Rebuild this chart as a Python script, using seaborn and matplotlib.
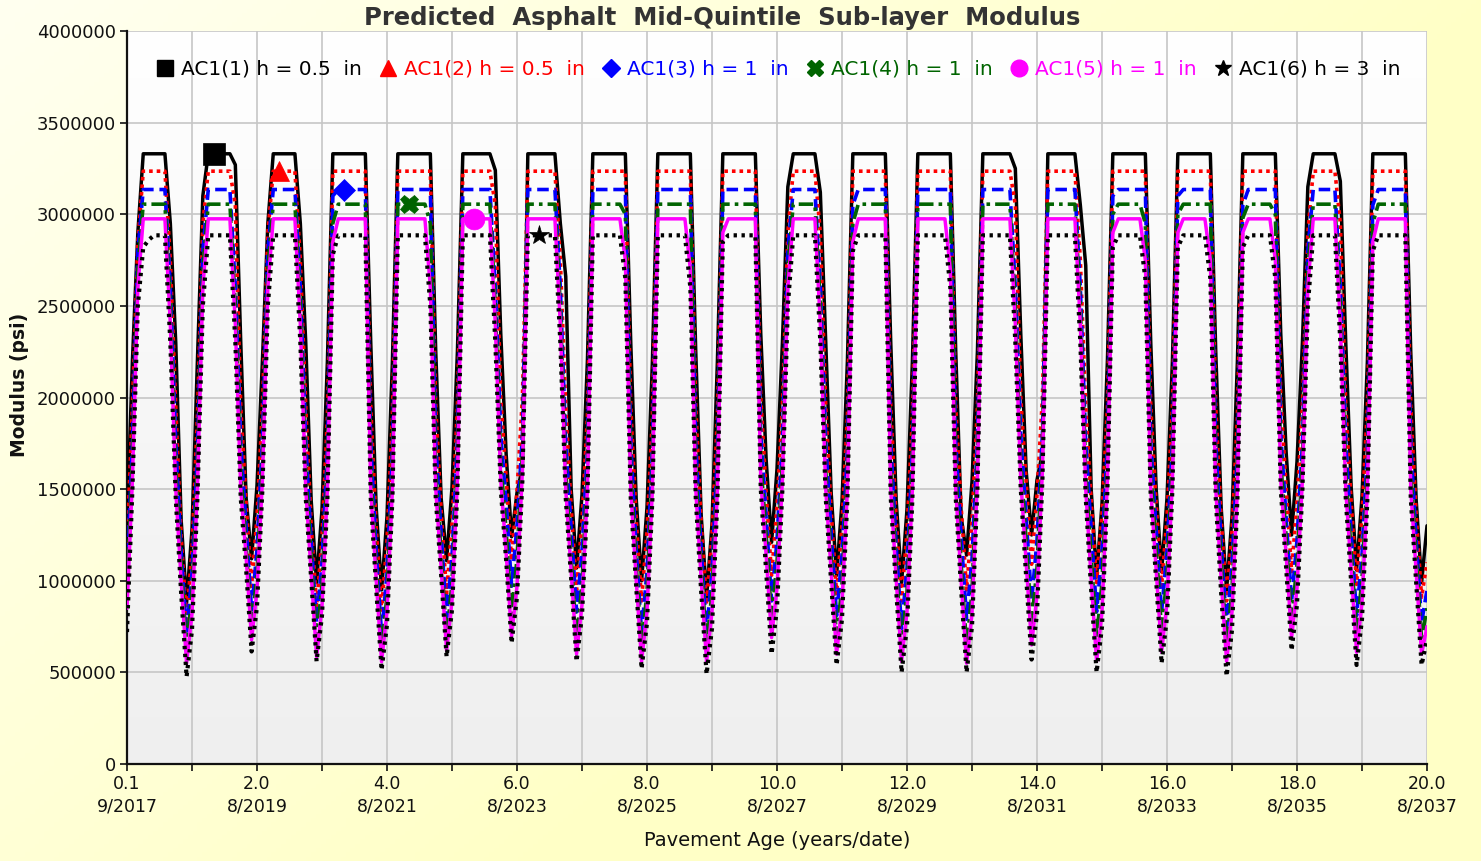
import numpy as np
import matplotlib
matplotlib.use("Agg")
import matplotlib.pyplot as plt
from matplotlib.lines import Line2D
from matplotlib.colors import LinearSegmentedColormap
import seaborn as sns

# ---------------- data (modulus in ksi, monthly, 241 points) ----------------
ac1_1 = [
    1300, 2200, 2900, 3330, 3330, 3330, 3330, 3330, 2950, 2300, 1330, 880,
    1280, 2200, 3100, 3330, 3330, 3330, 3330, 3330, 3270, 2300, 1450, 1120,
    1520, 2200, 2950, 3330, 3330, 3330, 3330, 3330, 2950, 2300, 1440, 990,
    1390, 2200, 3330, 3330, 3330, 3330, 3330, 3330, 3330, 2300, 1400, 950,
    1350, 2200, 3330, 3330, 3330, 3330, 3330, 3330, 3330, 2250, 1450, 1110,
    1510, 2250, 3330, 3330, 3330, 3330, 3330, 3330, 3240, 2350, 1690, 1240,
    1480, 1620, 3330, 3330, 3330, 3330, 3330, 3330, 2950, 2660, 1500, 1070,
    1470, 2200, 3330, 3330, 3330, 3330, 3330, 3330, 3330, 2300, 1450, 1000,
    1400, 2200, 3330, 3330, 3330, 3330, 3330, 3330, 3330, 2250, 1360, 910,
    1310, 2200, 3330, 3330, 3330, 3330, 3330, 3330, 3330, 2350, 1660, 1210,
    1610, 2300, 3150, 3330, 3330, 3330, 3330, 3330, 3120, 2300, 1480, 1030,
    1430, 2200, 3330, 3330, 3330, 3330, 3330, 3330, 3330, 2300, 1440, 990,
    1390, 2200, 3330, 3330, 3330, 3330, 3330, 3330, 3330, 2250, 1350, 1140,
    1540, 2250, 3330, 3330, 3330, 3330, 3330, 3330, 3250, 2350, 1600, 1250,
    1550, 1700, 3330, 3330, 3330, 3330, 3330, 3330, 3050, 2720, 1500, 1020,
    1420, 2200, 3330, 3330, 3330, 3330, 3330, 3330, 3330, 2300, 1500, 1050,
    1450, 2200, 3330, 3330, 3330, 3330, 3330, 3330, 3330, 2250, 1400, 950,
    1350, 2200, 3330, 3330, 3330, 3330, 3330, 3330, 3330, 2350, 1700, 1250,
    1650, 2300, 3150, 3330, 3330, 3330, 3330, 3330, 3180, 2300, 1510, 1060,
    1460, 2200, 3330, 3330, 3330, 3330, 3330, 3330, 3330, 2250, 1440, 990,
    1300]

ac1_2 = [
    1200, 1950, 2850, 3235, 3235, 3235, 3235, 3235, 2750, 1950, 1240, 786,
    1170, 1900, 2950, 3235, 3235, 3235, 3235, 3235, 3050, 1950, 1420, 970,
    1350, 1950, 2900, 3235, 3235, 3235, 3235, 3235, 2750, 1950, 1310, 860,
    1240, 1900, 3235, 3235, 3235, 3235, 3235, 3235, 3235, 1950, 1290, 840,
    1220, 1900, 3235, 3235, 3235, 3235, 3235, 3235, 3235, 1950, 1380, 930,
    1310, 1950, 3235, 3235, 3235, 3235, 3235, 3235, 3050, 2000, 1560, 1110,
    1490, 2000, 3235, 3235, 3235, 3235, 3235, 3235, 2750, 1950, 1400, 950,
    1330, 1900, 3235, 3235, 3235, 3235, 3235, 3235, 3235, 1950, 1340, 890,
    1270, 1900, 3235, 3235, 3235, 3235, 3235, 3235, 3235, 1950, 1320, 870,
    1250, 1900, 3235, 3235, 3235, 3235, 3235, 3235, 3235, 2000, 1480, 1030,
    1410, 1950, 2900, 3235, 3235, 3235, 3235, 3235, 2900, 1950, 1380, 930,
    1310, 1900, 3235, 3235, 3235, 3235, 3235, 3235, 3235, 1950, 1340, 890,
    1270, 1900, 3235, 3235, 3235, 3235, 3235, 3235, 3235, 1950, 1400, 950,
    1330, 1950, 3235, 3235, 3235, 3235, 3235, 3235, 3050, 2000, 1540, 1090,
    1470, 2000, 3235, 3235, 3235, 3235, 3235, 3235, 2750, 1950, 1440, 990,
    1370, 1950, 3235, 3235, 3235, 3235, 3235, 3235, 3235, 1950, 1420, 970,
    1350, 1950, 3235, 3235, 3235, 3235, 3235, 3235, 3235, 1950, 1340, 890,
    1270, 1900, 3235, 3235, 3235, 3235, 3235, 3235, 3235, 2000, 1500, 1050,
    1430, 1950, 2900, 3235, 3235, 3235, 3235, 3235, 2950, 1950, 1430, 980,
    1360, 1950, 3235, 3235, 3235, 3235, 3235, 3235, 3235, 1950, 1360, 910,
    1100]

ac1_3 = [
    1050, 1750, 2800, 3135, 3135, 3135, 3135, 3135, 2600, 1750, 1160, 713,
    1040, 1700, 2800, 3135, 3135, 3135, 3135, 3135, 2600, 1750, 1290, 840,
    1170, 1750, 2800, 3135, 3135, 3135, 3135, 3135, 2600, 1750, 1220, 770,
    1100, 1700, 3100, 3135, 3135, 3135, 3135, 3135, 3135, 1750, 1160, 710,
    1040, 1700, 3135, 3135, 3135, 3135, 3135, 3135, 3135, 1750, 1250, 800,
    1130, 1750, 3135, 3135, 3135, 3135, 3135, 3135, 2600, 1800, 1420, 970,
    1300, 1800, 3135, 3135, 3135, 3135, 3135, 3135, 2600, 1750, 1280, 830,
    1160, 1700, 3135, 3135, 3135, 3135, 3135, 3135, 3135, 1750, 1170, 720,
    1050, 1700, 3135, 3135, 3135, 3135, 3135, 3135, 3135, 1750, 1170, 720,
    1050, 1700, 3135, 3135, 3135, 3135, 3135, 3135, 3135, 1800, 1340, 890,
    1220, 1750, 2800, 3135, 3135, 3135, 3135, 3135, 2600, 1750, 1260, 810,
    1140, 1700, 3050, 3135, 3135, 3135, 3135, 3135, 3135, 1750, 1190, 740,
    1070, 1700, 3135, 3135, 3135, 3135, 3135, 3135, 3135, 1750, 1240, 790,
    1120, 1750, 3135, 3135, 3135, 3135, 3135, 3135, 2600, 1800, 1340, 890,
    1220, 1800, 3135, 3135, 3135, 3135, 3135, 3135, 2600, 1750, 1280, 830,
    1160, 1750, 3100, 3135, 3135, 3135, 3135, 3135, 3135, 1750, 1280, 830,
    1160, 1750, 3100, 3135, 3135, 3135, 3135, 3135, 3135, 1750, 1200, 750,
    1080, 1700, 3050, 3135, 3135, 3135, 3135, 3135, 3135, 1800, 1340, 890,
    1220, 1750, 2800, 3135, 3135, 3135, 3135, 3135, 2600, 1750, 1260, 810,
    1140, 1700, 3050, 3135, 3135, 3135, 3135, 3135, 3135, 1750, 1220, 770,
    950]

ac1_4 = [
    950, 1650, 2700, 3055, 3055, 3055, 3055, 3055, 2500, 1600, 1080, 630,
    930, 1600, 2700, 3055, 3055, 3055, 3055, 3055, 2500, 1600, 1190, 740,
    1040, 1650, 2700, 3055, 3055, 3055, 3055, 3055, 2500, 1600, 1130, 680,
    980, 1600, 2950, 3055, 3055, 3055, 3055, 3055, 3055, 1600, 1070, 620,
    920, 1600, 3055, 3055, 3055, 3055, 3055, 3055, 2950, 1600, 1140, 690,
    990, 1650, 3055, 3055, 3055, 3055, 3055, 3055, 2500, 1650, 1270, 820,
    1120, 1700, 3055, 3055, 3055, 3055, 3055, 3055, 2500, 1600, 1130, 680,
    980, 1600, 3055, 3055, 3055, 3055, 3055, 3055, 3000, 1600, 1090, 640,
    940, 1600, 3055, 3055, 3055, 3055, 3055, 3055, 3055, 1600, 1090, 640,
    940, 1600, 3055, 3055, 3055, 3055, 3055, 3055, 3055, 1650, 1250, 800,
    1100, 1650, 2700, 3055, 3055, 3055, 3055, 3055, 2500, 1600, 1130, 680,
    980, 1600, 2950, 3055, 3055, 3055, 3055, 3055, 3055, 1600, 1090, 640,
    940, 1600, 3055, 3055, 3055, 3055, 3055, 3055, 3055, 1600, 1090, 640,
    940, 1650, 3055, 3055, 3055, 3055, 3055, 3055, 2500, 1650, 1220, 770,
    1070, 1700, 3055, 3055, 3055, 3055, 3055, 3055, 2500, 1600, 1140, 690,
    990, 1650, 3000, 3055, 3055, 3055, 3055, 3055, 2950, 1600, 1180, 730,
    1030, 1650, 3000, 3055, 3055, 3055, 3055, 3055, 3055, 1600, 1100, 650,
    950, 1600, 2980, 3055, 3055, 3055, 3055, 3055, 3000, 1650, 1240, 790,
    1090, 1650, 2700, 3055, 3055, 3055, 3055, 3055, 2500, 1600, 1160, 710,
    1010, 1600, 2950, 3055, 3055, 3055, 3055, 3055, 3055, 1600, 1130, 680,
    850]

ac1_5 = [
    850, 1550, 2600, 2975, 2975, 2975, 2975, 2975, 2400, 1500, 1000, 550,
    820, 1500, 2600, 2975, 2975, 2975, 2975, 2975, 2400, 1500, 1130, 677,
    950, 1550, 2600, 2975, 2975, 2975, 2975, 2975, 2400, 1500, 1040, 586,
    860, 1500, 2850, 2975, 2975, 2975, 2975, 2975, 2975, 1500, 1010, 558,
    830, 1500, 2975, 2975, 2975, 2975, 2975, 2975, 2600, 1500, 1070, 620,
    890, 1550, 2975, 2975, 2975, 2975, 2975, 2975, 2400, 1550, 1150, 700,
    970, 1600, 2975, 2975, 2975, 2975, 2975, 2975, 2400, 1500, 1050, 600,
    870, 1500, 2975, 2975, 2975, 2975, 2975, 2975, 2750, 1500, 1010, 560,
    830, 1500, 2975, 2975, 2975, 2975, 2975, 2975, 2700, 1500, 1010, 560,
    830, 1500, 2900, 2975, 2975, 2975, 2975, 2975, 2975, 1550, 1140, 690,
    960, 1550, 2600, 2975, 2975, 2975, 2975, 2975, 2400, 1500, 1050, 600,
    870, 1500, 2850, 2975, 2975, 2975, 2975, 2975, 2975, 1500, 1010, 560,
    830, 1500, 2975, 2975, 2975, 2975, 2975, 2975, 2700, 1500, 1000, 550,
    820, 1550, 2975, 2975, 2975, 2975, 2975, 2975, 2400, 1550, 1100, 650,
    920, 1600, 2975, 2975, 2975, 2975, 2975, 2975, 2400, 1500, 1010, 560,
    830, 1550, 2900, 2975, 2975, 2975, 2975, 2975, 2750, 1500, 1060, 610,
    880, 1550, 2900, 2975, 2975, 2975, 2975, 2975, 2750, 1500, 1010, 560,
    830, 1500, 2900, 2975, 2975, 2975, 2975, 2975, 2750, 1550, 1140, 690,
    960, 1550, 2600, 2975, 2975, 2975, 2975, 2975, 2400, 1500, 1060, 610,
    880, 1500, 2850, 2975, 2975, 2975, 2975, 2975, 2975, 1500, 1050, 600,
    750]

ac1_6 = [
    720, 1500, 2500, 2820, 2860, 2885, 2885, 2885, 2300, 1450, 930, 476,
    730, 1450, 2500, 2885, 2885, 2885, 2885, 2885, 2300, 1450, 1060, 614,
    860, 1500, 2500, 2885, 2885, 2885, 2885, 2885, 2300, 1450, 1010, 560,
    810, 1450, 2780, 2885, 2885, 2885, 2885, 2885, 2885, 1450, 960, 513,
    760, 1450, 2885, 2885, 2885, 2885, 2885, 2885, 2500, 1450, 1030, 585,
    840, 1500, 2885, 2885, 2885, 2885, 2885, 2885, 2300, 1500, 1110, 660,
    910, 1550, 2885, 2885, 2885, 2885, 2885, 2885, 2300, 1450, 1010, 560,
    810, 1450, 2885, 2885, 2885, 2885, 2885, 2885, 2650, 1450, 970, 520,
    770, 1450, 2885, 2885, 2885, 2885, 2885, 2885, 2600, 1450, 940, 490,
    740, 1450, 2850, 2885, 2885, 2885, 2885, 2885, 2885, 1500, 1050, 600,
    850, 1500, 2500, 2885, 2885, 2885, 2885, 2885, 2300, 1450, 990, 540,
    790, 1450, 2800, 2885, 2885, 2885, 2885, 2885, 2885, 1450, 950, 500,
    750, 1450, 2885, 2885, 2885, 2885, 2885, 2885, 2600, 1450, 950, 500,
    750, 1500, 2885, 2885, 2885, 2885, 2885, 2885, 2300, 1500, 1020, 570,
    820, 1550, 2885, 2885, 2885, 2885, 2885, 2885, 2300, 1450, 950, 500,
    750, 1500, 2820, 2885, 2885, 2885, 2885, 2885, 2650, 1450, 1000, 550,
    800, 1500, 2820, 2885, 2885, 2885, 2885, 2885, 2650, 1450, 930, 480,
    730, 1450, 2820, 2885, 2885, 2885, 2885, 2885, 2650, 1500, 1070, 620,
    870, 1500, 2500, 2885, 2885, 2885, 2885, 2885, 2300, 1450, 990, 540,
    790, 1450, 2800, 2885, 2885, 2885, 2885, 2885, 2885, 1450, 990, 540,
    680]

series_labels = ["AC1(1) h = 0.5  in", "AC1(2) h = 0.5  in", "AC1(3) h = 1  in",
                 "AC1(4) h = 1  in", "AC1(5) h = 1  in", "AC1(6) h = 3  in"]
x_tick_labels = ["0.1\n9/2017", "2.0\n8/2019", "4.0\n8/2021", "6.0\n8/2023",
                 "8.0\n8/2025", "10.0\n8/2027", "12.0\n8/2029", "14.0\n8/2031",
                 "16.0\n8/2033", "18.0\n8/2035", "20.0\n8/2037"]
y_ticks = [0, 500000, 1000000, 1500000, 2000000, 2500000, 3000000, 3500000, 4000000]

all_series = [ac1_1, ac1_2, ac1_3, ac1_4, ac1_5, ac1_6]
months = np.arange(len(ac1_1))

# ---------------- styling ----------------
colors = ["#000000", "#FF0000", "#0000FF", "#006400", "#FF00FF", "#000000"]
styles = ["-", (0, (1, 1.1)), (0, (3.2, 1.6)), (0, (4, 1.4, 1, 1.4)), "-", (0, (0.8, 1.1))]
widths = [2.5, 2.6, 2.6, 2.6, 2.5, 3.0]
mk = ["s", "^", "D", "X", "o", "*"]
msz = [16, 14, 11, 13, 15, 15]
mk_idx = [16, 28, 40, 52, 64, 76]

sns.set_style("white")
plt.rcParams['font.family'] = ['DejaVu Sans']

W, H = 1481, 861
fig = plt.figure(figsize=(W / 100, H / 100), dpi=100)

# figure background gradient (pale yellow)
bg = fig.add_axes([0, 0, 1, 1], zorder=-10)
gx, gy = np.meshgrid(np.linspace(0, 1, 300), np.linspace(0, 1, 200))
t = np.clip(0.15 + gx * 0.85 + gy * 0.55, 0, 1)
white = np.array([1.0, 1.0, 0.97])
yellow = np.array([1.0, 1.0, 0.78])
img = white[None, None, :] * (1 - t[..., None]) + yellow[None, None, :] * t[..., None]
bg.imshow(img, extent=[0, 1, 0, 1], aspect="auto", origin="upper")
bg.set_axis_off()

L, R, T, B = 127, 1427, 31, 764
ax = fig.add_axes([L / W, 1 - B / H, (R - L) / W, (B - T) / H])

# plot area gradient: white at top -> light grey at bottom
pgrad = np.linspace(0, 1, 256)[:, None]
cmap = LinearSegmentedColormap.from_list("pa", ["#FFFFFF", "#EFEFEF"])
ax.imshow(pgrad, extent=[0, 240, 0, 4000000], origin="upper", aspect="auto",
          cmap=cmap, zorder=0)

for i, vals in enumerate(all_series):
    yv = np.array(vals) * 1000
    sns.lineplot(x=months, y=yv, ax=ax, color=colors[i], linestyle=styles[i],
                 linewidth=widths[i], marker=mk[i], markevery=[mk_idx[i]],
                 markersize=msz[i], markeredgecolor=colors[i], markeredgewidth=0.5,
                 legend=False, zorder=3 + i)

ax.set_xlim(0, 240)
ax.set_ylim(0, 4000000)
ax.set_xticks(np.arange(0, 241, 12))
xl = []
for k in range(21):
    xl.append(x_tick_labels[k // 2] if k % 2 == 0 else "")
ax.set_xticklabels(xl, fontsize=12.5, linespacing=1.3)
ax.set_yticks(y_ticks)
ax.set_yticklabels([str(v) for v in y_ticks], fontsize=13)
ax.grid(True, color="#C6C6C6", linewidth=1.2, zorder=1)
ax.set_axisbelow(True)
for s in ["top", "right"]:
    ax.spines[s].set_visible(False)
for s in ["left", "bottom"]:
    ax.spines[s].set_color("#111111")
    ax.spines[s].set_linewidth(1.6)
ax.tick_params(axis="both", direction="out", length=5, width=1.2, colors="#111111",
               bottom=True, left=True, pad=3)
ax.set_xlabel("")
ax.set_ylabel("")

handles = [Line2D([], [], linestyle="none", marker=mk[i], color=colors[i],
                  markersize=12 if mk[i] != "D" else 9.5) for i in range(6)]
leg = ax.legend(handles, series_labels, ncol=6, loc="upper left",
                bbox_to_anchor=(0.012, 0.977), frameon=False, fontsize=14.5,
                handletextpad=0.3, columnspacing=0.8, handlelength=1.0,
                borderaxespad=0.2)
for i, txt in enumerate(leg.get_texts()):
    txt.set_color(colors[i])

fig.text(722 / W, 1 - 18 / H, "Predicted  Asphalt  Mid-Quintile  Sub-layer  Modulus",
         ha="center", va="center", fontsize=17.5, fontweight="bold", color="#333333")
fig.text(20 / W, 1 - 385 / H, "Modulus (psi)", rotation=90, ha="center", va="center",
         fontsize=13.5, fontweight="bold", color="#111111")
fig.text(777 / W, 1 - 840 / H, "Pavement Age (years/date)", ha="center", va="center",
         fontsize=14, color="#111111")

fig.savefig("out.png", dpi=100)
